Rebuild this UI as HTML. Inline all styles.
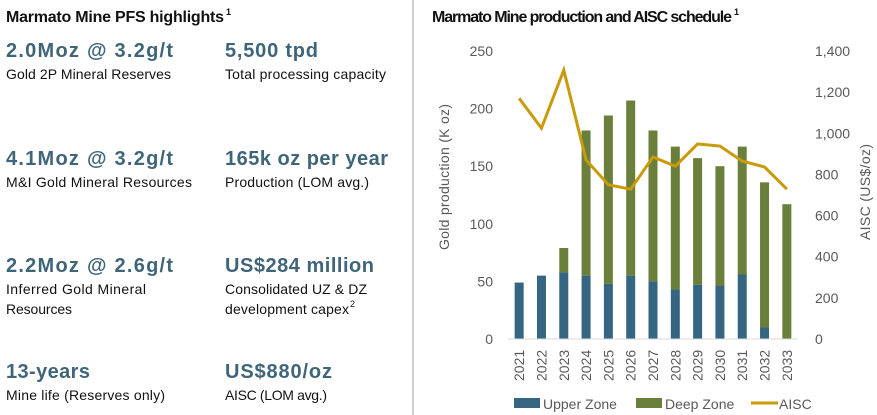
<!DOCTYPE html>
<html><head><meta charset="utf-8"><style>
html,body{margin:0;padding:0;background:#fff;}
svg{display:block;font-family:"Liberation Sans",sans-serif;}
.big{font-size:20px;font-weight:bold;fill:#3f6579;}
.sub{font-size:14px;fill:#111;}
.tick{font-size:14px;fill:#595959;}
</style></head><body>
<svg id="root" width="877" height="415" viewBox="0 0 877 415">
<g>
<text x="6" y="22" font-size="16" font-weight="bold" fill="#111" textLength="218">Marmato Mine PFS highlights</text>
<text x="226" y="15" font-size="9" font-weight="bold" fill="#111">1</text>
<text class="big" x="6" y="57" textLength="167">2.0Moz @ 3.2g/t</text>
<text class="sub" x="6" y="79" textLength="165">Gold 2P Mineral Reserves</text>
<text class="big" x="225" y="57" textLength="93">5,500 tpd</text>
<text class="sub" x="225" y="79" textLength="161">Total processing capacity</text>
<text class="big" x="6" y="165" textLength="167">4.1Moz @ 3.2g/t</text>
<text class="sub" x="6" y="187" textLength="186">M&amp;I Gold Mineral Resources</text>
<text class="big" x="225" y="165" textLength="163">165k oz per year</text>
<text class="sub" x="225" y="187" textLength="144">Production (LOM avg.)</text>
<text class="big" x="6" y="272" textLength="167">2.2Moz @ 2.6g/t</text>
<text class="sub" x="6" y="294" textLength="140">Inferred Gold Mineral</text>
<text class="sub" x="6" y="314" textLength="66">Resources</text>
<text class="big" x="225" y="272" textLength="149">US$284 million</text>
<text class="sub" x="225" y="294" textLength="142">Consolidated UZ &amp; DZ</text>
<text class="sub" x="225" y="314" textLength="124">development capex</text>
<text x="350" y="307" font-size="9" fill="#111">2</text>
<text class="big" x="6" y="378" textLength="84">13-years</text>
<text class="sub" x="6" y="400" textLength="159">Mine life (Reserves only)</text>
<text class="big" x="225" y="378" textLength="107">US$880/oz</text>
<text class="sub" x="225" y="400" textLength="102">AISC (LOM avg.)</text>
</g>
<line x1="413" y1="0" x2="413" y2="415" stroke="#bfbfbf" stroke-width="1.5"/>
<text x="432" y="22" font-size="16" font-weight="bold" fill="#111" textLength="300">Marmato Mine production and AISC schedule</text>
<text x="734" y="15" font-size="9" font-weight="bold" fill="#111">1</text>
<g id="chart"></g>
</svg>
<script>
const years = ['2021','2022','2023','2024','2025','2026','2027','2028','2029','2030','2031','2032','2033'];
const upperZone = [49,55,58,55,48,55,50,43,47,46,56,10,0];
const deepZone = [0,0,21,126,146,152,131,124,110,104,111,126,117];
const aisc = [1170,1025,1307,870,750,728,885,840,948,938,865,836,729];
const leftTicks = [0,50,100,150,200,250];
const rightTicks = ['0','200','400','600','800','1,000','1,200','1,400'];
const rightTickValues = [0,200,400,600,800,1000,1200,1400];

const NS='http://www.w3.org/2000/svg';
const g=document.getElementById('chart');
const y0=339, yTop=51, xL=508, xR=798;
const yL=v=>y0-(v/250)*(y0-yTop);
const yR=v=>y0-(v/1400)*(y0-yTop);
const step=(xR-xL)/years.length;
const xc=i=>xL+step*(i+0.5);
function mk(tag,attrs){const e=document.createElementNS(NS,tag);for(const k in attrs)e.setAttribute(k,attrs[k]);g.appendChild(e);return e;}

leftTicks.forEach(v=>{const t=mk('text',{x:493,y:yL(v)+5,'text-anchor':'end',class:'tick'});t.textContent=v;

});
rightTicks.forEach((s,i)=>{const t=mk('text',{x:815,y:yR(rightTickValues[i])+5,class:'tick'});t.textContent=s;

});

const bw=9;
years.forEach((yr,i)=>{
 const u=upperZone[i], d=deepZone[i];
 const r1=mk('rect',{x:xc(i)-bw/2,y:yL(u),width:bw,height:yL(0)-yL(u),fill:'#356580'});
 
 
 const r2=mk('rect',{x:xc(i)-bw/2,y:yL(u+d),width:bw,height:yL(u)-yL(u+d),fill:'#6a7f3c'});
 
 
 const t=mk('text',{x:0,y:0,class:'tick',transform:`translate(${xc(i)+5},381) rotate(-90)`});t.textContent=yr;
 
 
});
const base=mk('line',{x1:xL,y1:y0,x2:xR,y2:y0,stroke:'#d9d9d9','stroke-width':1});


const pl=mk('polyline',{points:aisc.map((v,i)=>xc(i)+','+yR(v)).join(' '),fill:'none',stroke:'#c99a0a','stroke-width':3,'stroke-linejoin':'miter'});



const yt=mk('text',{x:0,y:0,class:'tick',transform:'translate(449,250) rotate(-90)',textLength:146});yt.textContent='Gold production (K oz)';


const yt2=mk('text',{x:0,y:0,class:'tick',transform:'translate(870,240) rotate(-90)',textLength:96});yt2.textContent='AISC (US$/oz)';



const l1=mk('rect',{x:514,y:398,width:26,height:10,fill:'#356580'});


const lt1=mk('text',{x:543,y:409,class:'tick'});lt1.textContent='Upper Zone';


const l2=mk('rect',{x:636,y:398,width:26,height:10,fill:'#6a7f3c'});


const lt2=mk('text',{x:665,y:409,class:'tick'});lt2.textContent='Deep Zone';


const l3=mk('line',{x1:751,y1:403,x2:778,y2:403,stroke:'#c99a0a','stroke-width':3});


const lt3=mk('text',{x:779,y:409,class:'tick'});lt3.textContent='AISC';


</script>
</body></html>
